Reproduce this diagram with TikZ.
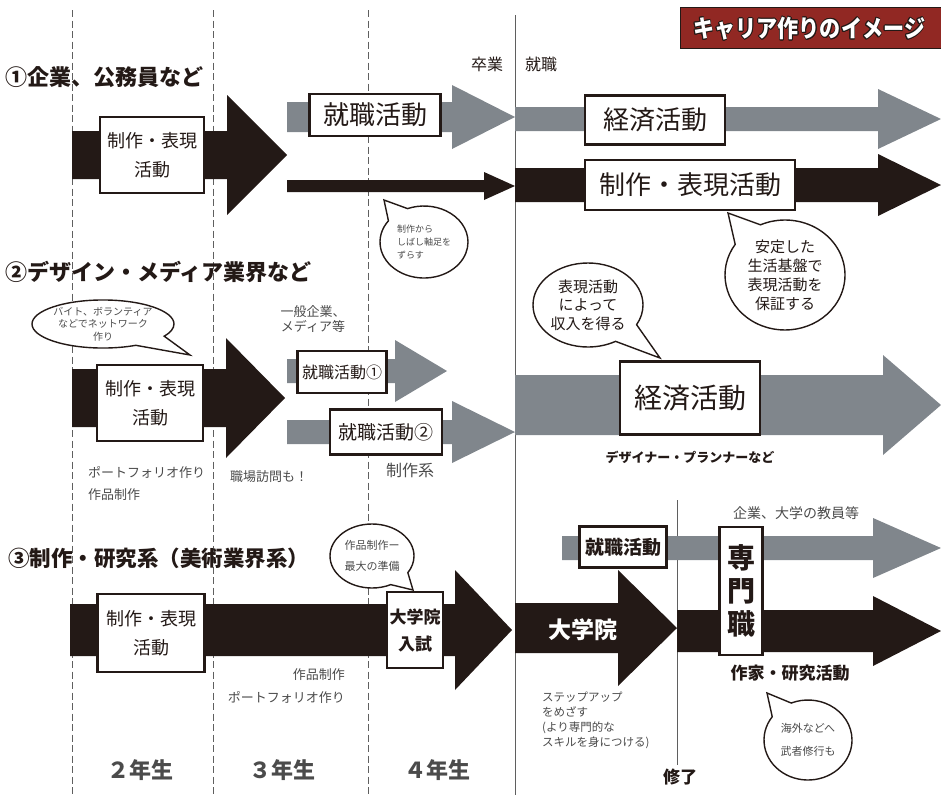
\documentclass[tikz,border=0pt]{standalone}
\usepackage{fontspec}
\setmainfont{Noto Sans CJK JP}
\usepackage[copies]{contour}
\usepackage{tikz}
\usetikzlibrary{shapes.geometric,shapes.callouts}

\definecolor{inkblack}{RGB}{35,25,22}
\definecolor{slategrey}{RGB}{128,134,140}
\definecolor{titlered}{RGB}{145,40,35}
\definecolor{notegrey}{RGB}{75,75,75}
\definecolor{linegrey}{RGB}{95,95,95}

\newcommand{\sz}[2]{\fontsize{#1}{#2}\selectfont}
% block arrow: colour, start x, head base x, tip x, centre y, half shaft, half head
\newcommand{\blockarrow}[7]{%
  \fill[#1] (#2,#5-#6) -- (#3,#5-#6) -- (#3,#5-#7) -- (#4,#5)
    -- (#3,#5+#7) -- (#3,#5+#6) -- (#2,#5+#6) -- cycle;}

\tikzset{
  panel/.style={draw=inkblack, line width=2.6pt, fill=white, align=center,
    inner sep=0pt, text=inkblack},
  bubble/.style={ellipse callout, draw=inkblack, line width=1.4pt, fill=white,
    align=center, inner sep=0pt, callout pointer arc=32, text=notegrey},
  heading/.style={anchor=west, inner sep=0pt, font=\bfseries\sz{22}{22}, text=inkblack},
  note/.style={inner sep=0pt, text=notegrey, font=\sz{13}{15}},
  yearlabel/.style={inner sep=0pt, text=notegrey, font=\bfseries\sz{22}{22}},
  yearline/.style={draw=linegrey, line width=0.8pt, dash pattern=on 7pt off 3.5pt},
  stageline/.style={draw=linegrey, line width=1pt},
}

\begin{document}
\begin{tikzpicture}[x=1pt, y=-1pt]
\useasboundingbox (0,0) rectangle (941,795);
% School years and stages
\foreach \xx in {72,213,368}
  \draw[yearline] (\xx,10) -- (\xx,795);
\draw[stageline] (515,15) -- (515,795);
\draw[stageline] (677,500) -- (677,765);
%
% Title
\node[fill=titlered, draw=inkblack, line width=0.8pt, minimum width=280,
  minimum height=41, anchor=north west, inner sep=0pt] (titlebar) at (680,7) {};
\node[anchor=west, inner sep=0pt, text=white, font=\bfseries\sz{24}{24}] (title)
  at (693,29) {\scalebox{0.88}[1]{\contour{inkblack}{キャリア作りのイメージ}}};
\node[note, font=\sz{16}{16}, text=inkblack] (leave) at (487,64) {卒業};
\node[note, font=\sz{16}{16}, text=inkblack] (hire) at (541,64) {就職};
%
% 1: companies, civil service
\node[heading] (head1) at (5,77) {①企業、公務員など};
\blockarrow{inkblack}{72}{227}{287}{155}{24}{60}
\blockarrow{slategrey}{287}{452}{515}{117}{15}{32}
\blockarrow{inkblack}{287}{484}{515}{186}{6}{14}
\blockarrow{slategrey}{515}{878}{941}{119}{12}{30}
\blockarrow{inkblack}{515}{878}{941}{185}{17}{31}
\node[panel, minimum width=104, minimum height=76, font=\sz{18}{29}] (make1)
  at (152,155) {制作・表現\\活動};
\node[panel, minimum width=131, minimum height=42, font=\sz{26}{26}] (job1)
  at (375,115) {就職活動};
\node[panel, minimum width=140, minimum height=49, font=\sz{26}{26}] (econ1)
  at (655,120) {経済活動};
\node[panel, minimum width=210, minimum height=50, font=\sz{26}{26}] (work1)
  at (690,185) {制作・表現活動};
\coordinate (shifttip) at (384,200);
\node[bubble, minimum width=88, minimum height=72, font=\sz{9}{13}, align=left,
  callout absolute pointer={(shifttip)}] (shift) at (424,242)
  {制作から\\しばし軸足を\\ずらす};
\coordinate (securetip) at (728,213);
\node[bubble, minimum width=120, minimum height=110, font=\sz{15}{19}, text=inkblack,
  callout absolute pointer={(securetip)}] (secure) at (785,275)
  {安定した\\生活基盤で\\表現活動を\\保証する};
%
% 2: design, media
\node[heading] (head2) at (5,272) {②デザイン・メディア業界など};
\blockarrow{inkblack}{72}{226}{285}{398}{29}{60}
\blockarrow{slategrey}{287}{395}{447}{371}{12}{31}
\blockarrow{slategrey}{287}{452}{515}{432}{12}{31}
\blockarrow{slategrey}{515}{883}{941}{405}{30}{50}
\node[panel, minimum width=106, minimum height=76, font=\sz{18}{29}] (make2)
  at (150,403) {制作・表現\\活動};
\node[panel, minimum width=89, minimum height=42, font=\sz{16}{16}] (job2a)
  at (342,372) {就職活動①};
\node[panel, minimum width=112, minimum height=45, font=\sz{19}{19}] (job2b)
  at (386,432) {就職活動②};
\node[panel, minimum width=140, minimum height=73, font=\sz{28}{28}] (econ2)
  at (690,398) {経済活動};
\coordinate (networktip) at (190,355);
\node[bubble, minimum width=142, minimum height=48, font=\sz{10}{12.5},
  callout absolute pointer={(networktip)}] (network) at (103,324)
  {バイト、ボランティア\\などでネットワーク\\作り};
\node[note, align=center, font=\sz{13}{15}] (media) at (313,319) {一般企業、\\メディア等};
\node[note, anchor=west] (folio2) at (88,472) {ポートフォリオ作り};
\node[note, anchor=west] (works2) at (88,495) {作品制作};
\node[note, anchor=west] (visit) at (230,477) {職場訪問も！};
\node[note, font=\sz{16}{16}] (craft) at (410,470) {制作系};
\coordinate (incometip) at (660,358);
\node[bubble, minimum width=110, minimum height=84, font=\sz{15}{18.5}, text=inkblack,
  callout absolute pointer={(incometip)}] (income) at (588,305)
  {表現活動\\によって\\収入を得る};
\node[note, font=\bfseries\sz{13}{13}, text=inkblack] (designer) at (690,457)
  {デザイナー・プランナーなど};
%
% 3: art, research
\node[heading, font=\bfseries\sz{21.5}{22}] (head3) at (8,558) {③制作・研究系（美術業界系）};
\blockarrow{inkblack}{70}{455}{512}{630}{26}{60}
\blockarrow{slategrey}{562}{873}{941}{548}{12}{30}
\blockarrow{inkblack}{515}{618}{677}{628}{25}{58}
\blockarrow{inkblack}{677}{873}{941}{631}{21}{35}
\node[panel, minimum width=107, minimum height=78, font=\sz{18}{29}] (make3)
  at (151,633) {制作・表現\\活動};
\node[panel, minimum width=56, minimum height=76, font=\bfseries\sz{17}{27}] (exam)
  at (415,630) {大学院\\入試};
\node[panel, minimum width=87, minimum height=41, font=\bfseries\sz{19}{19}] (job3)
  at (623,547) {就職活動};
\node[panel, minimum width=43, minimum height=128, font=\bfseries\sz{28}{33}] (expert)
  at (741,591) {専\\門\\職};
\node[inner sep=0pt, text=white, font=\bfseries\sz{23}{23}] (grad) at (583,630) {大学院};
\coordinate (preptip) at (413,590);
\node[bubble, minimum width=84, minimum height=64, font=\sz{11}{21},
  callout absolute pointer={(preptip)}] (prep) at (372,556)
  {作品制作ー\\最大の準備};
\node[note, anchor=east] (works3) at (345,675) {作品制作};
\node[note, anchor=east] (folio3) at (345,697) {ポートフォリオ作り};
\node[note, font=\sz{14}{14}] (staff) at (796,513) {企業、大学の教員等};
\node[note, font=\bfseries\sz{17}{17}, text=inkblack] (artist) at (790,673) {作家・研究活動};
\node[note, anchor=north west, align=left, font=\sz{11.5}{15}] (stepup) at (542,692)
  {ステップアップ\\をめざす\\(より専門的な\\スキルを身につける)};
\node[note, font=\bfseries\sz{17}{17}, text=inkblack] (finish) at (680,777) {修了};
\coordinate (abroadtip) at (767,693);
\node[bubble, minimum width=88, minimum height=80, font=\sz{11}{23},
  callout absolute pointer={(abroadtip)}] (abroad) at (808,740)
  {海外などへ\\武者修行も};
%
% Years
\node[yearlabel] (year2) at (140,770) {２年生};
\node[yearlabel] (year3) at (282,770) {３年生};
\node[yearlabel] (year4) at (437,770) {４年生};
\end{tikzpicture}
\end{document}
